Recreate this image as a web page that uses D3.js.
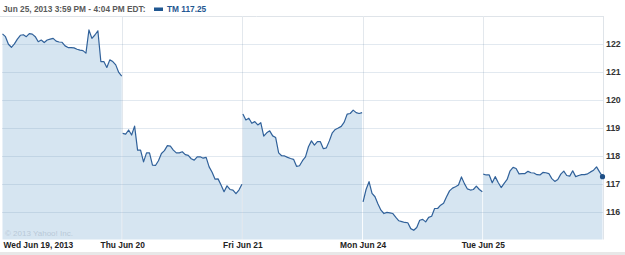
<!DOCTYPE html>
<html>
<head>
<meta charset="utf-8">
<script src="https://cdn.jsdelivr.net/npm/d3@7"></script>
<style>
  html, body { margin: 0; padding: 0; background: #fff; }
  svg { display: block; }
  text { font-family: "Liberation Sans", Arial, sans-serif; }
</style>
</head>
<body>
<svg id="chart" width="625" height="255"></svg>
<script>
// ---- data ----
const dayLabels = ["Wed Jun 19, 2013", "Thu Jun 20", "Fri Jun 21", "Mon Jun 24", "Tue Jun 25"];
const yTicks = [116, 117, 118, 119, 120, 121, 122];
const headerText = "Jun 25, 2013 3:59 PM - 4:04 PM EDT:";
const symbol = "TM";
const lastPrice = 117.25;
const copyright = "\u00A9 2013 Yahoo! Inc.";

// prices sampled every ~10 minutes through each session (41 per day)
const wedJun19 = [122.36, 122.26, 121.99, 121.88, 122.00, 122.17, 122.31, 122.33, 122.26, 122.37,
  122.35, 122.26, 122.08, 122.14, 122.05, 122.14, 122.17, 122.20, 122.10, 122.07,
  122.06, 121.93, 121.87, 121.87, 121.86, 121.81, 121.78, 121.76, 121.67, 122.50,
  122.20, 122.32, 122.47, 121.37, 121.37, 121.16, 121.43, 121.37, 121.25, 120.98, 120.85];
const thuJun20 = [118.80, 118.77, 118.92, 118.74, 119.06, 118.20, 118.20, 117.78, 118.10, 118.10,
  117.66, 117.65, 117.82, 118.08, 118.18, 118.36, 118.34, 118.20, 118.10, 118.10,
  118.14, 118.04, 118.01, 117.89, 117.84, 117.96, 117.96, 117.91, 117.94, 117.60,
  117.41, 117.16, 117.17, 116.95, 116.71, 116.92, 116.79, 116.77, 116.64, 116.77, 116.98];
const friJun21 = [119.49, 119.28, 119.34, 119.16, 119.22, 119.10, 119.18, 118.70, 118.82, 118.89,
  118.71, 118.65, 118.10, 118.00, 117.99, 117.94, 117.90, 117.87, 117.62, 117.64,
  117.82, 117.96, 118.32, 118.53, 118.38, 118.50, 118.50, 118.25, 118.28, 118.53,
  118.82, 118.94, 118.99, 119.05, 119.20, 119.49, 119.51, 119.63, 119.54, 119.51, 119.54];
const monJun24 = [116.35, 116.79, 117.07, 116.65, 116.53, 116.27, 116.05, 115.93, 115.97, 115.95,
  115.93, 115.79, 115.67, 115.64, 115.61, 115.60, 115.39, 115.33, 115.43, 115.69,
  115.72, 115.63, 115.79, 115.83, 116.11, 116.11, 116.23, 116.30, 116.53, 116.74,
  116.84, 116.89, 116.95, 117.24, 117.00, 116.81, 116.77, 116.79, 116.91, 116.79, 116.71];
const tueJun25 = [117.34, 117.31, 117.31, 117.03, 117.25, 117.04, 116.86, 117.01, 117.15, 117.46,
  117.58, 117.54, 117.35, 117.36, 117.36, 117.44, 117.39, 117.38, 117.32, 117.31,
  117.40, 117.39, 117.36, 117.18, 117.08, 117.15, 117.34, 117.45, 117.29, 117.27,
  117.46, 117.25, 117.29, 117.32, 117.32, 117.35, 117.42, 117.48, 117.60, 117.42, 117.25];
const sessions = [wedJun19, thuJun20, friJun21, monJun24, tueJun25];

// ---- layout ----
const svg = d3.select("#chart");
const pLeft = 2, pRight = 603, pTop = 16, pBottom = 239.5;

const x = d3.scaleLinear().domain([0, sessions.length]).range([pLeft, pRight]);
const y = d3.scaleLinear().domain([115, 123]).range([pBottom, pTop]);

// bottom gray strip
svg.append("rect").attr("x", 0).attr("y", 252).attr("width", 625).attr("height", 3).attr("fill", "#e8e8e8");

// header divider
svg.append("line").attr("x1", 0).attr("x2", pRight + 1).attr("y1", pTop + 0.5).attr("y2", pTop + 0.5)
  .attr("stroke", "#dfe4e9");

// vertical day gridlines (behind)
svg.append("g").selectAll("line").data(d3.range(1, sessions.length))
  .join("line")
  .attr("x1", d => Math.round(x(d)) + 0.5).attr("x2", d => Math.round(x(d)) + 0.5)
  .attr("y1", pTop).attr("y2", pBottom)
  .attr("stroke", "#e3e8ed");
// right border
svg.append("line").attr("x1", pRight + 0.5).attr("x2", pRight + 0.5).attr("y1", pTop).attr("y2", pBottom)
  .attr("stroke", "#dfe4e9");

// per-session x position
const px = (di, j, n) => x(di + j / (n - 1) * 0.992 + 0.004);

// areas
const area = d3.area().x(d => d.x).y0(y(115)).y1(d => y(d.v));
const line = d3.line().x(d => d.x).y(d => y(d.v));
const pts = sessions.map((arr, di) => arr.map((v, j) => ({ x: px(di, j, arr.length), v })));

svg.append("g").selectAll("path").data(pts).join("path")
  .attr("d", area).attr("fill", "#d6e5f1");

// horizontal gridlines (on top of fill, translucent)
svg.append("g").selectAll("line").data(yTicks).join("line")
  .attr("x1", pLeft).attr("x2", pRight)
  .attr("y1", d => Math.round(y(d)) + 0.5).attr("y2", d => Math.round(y(d)) + 0.5)
  .attr("stroke", "rgba(110,145,180,0.2)");

// copyright
svg.append("text").attr("x", 5).attr("y", 236).text(copyright)
  .attr("font-size", 8).attr("fill", "#b9c9d8");

// price lines
svg.append("g").selectAll("path").data(pts).join("path")
  .attr("d", line).attr("fill", "none").attr("stroke", "#30619a").attr("stroke-width", 1.2)
  .attr("stroke-linejoin", "round");

// last point dot
const lastPt = pts[pts.length - 1][pts[pts.length - 1].length - 1];
svg.append("circle").attr("cx", lastPt.x).attr("cy", y(lastPrice)).attr("r", 2.6).attr("fill", "#1f4f86");

// y axis labels
const yAxis = d3.axisRight(y).tickValues(yTicks).tickSize(0).tickPadding(0).tickFormat(d3.format("d"));
const ya = svg.append("g").attr("transform", `translate(${pRight + 3},0)`).call(yAxis);
ya.select(".domain").remove();
ya.selectAll("text").attr("font-family", "Liberation Sans, Arial, sans-serif")
  .attr("font-size", 8.8).attr("font-weight", "bold").attr("fill", "#333").attr("dy", "0.33em");

// x axis labels
const xAxis = d3.axisBottom(x).tickValues(d3.range(sessions.length)).tickSize(0).tickPadding(0)
  .tickFormat((d, i) => dayLabels[i]);
const xa = svg.append("g").attr("transform", `translate(0,${pBottom + 3})`).call(xAxis);
xa.select(".domain").remove();
xa.selectAll("text").attr("font-family", "Liberation Sans, Arial, sans-serif")
  .attr("font-size", 8.4).attr("font-weight", "bold").attr("fill", "#222").attr("dy", "0.71em");
xa.selectAll(".tick").filter((d, i) => i === 0).select("text").attr("text-anchor", "start").attr("x", 1);

// header
svg.append("text").attr("x", 3).attr("y", 12).text(headerText)
  .attr("font-size", 8.3).attr("font-weight", "bold").attr("fill", "#5a5a5a");
svg.append("rect").attr("x", 154).attr("y", 7.5).attr("width", 9).attr("height", 3.5).attr("fill", "#1f5791");
svg.append("text").attr("x", 167).attr("y", 12).text(`${symbol} ${lastPrice.toFixed(2)}`)
  .attr("font-size", 8.3).attr("font-weight", "bold").attr("fill", "#1f5791");
</script>
</body>
</html>
